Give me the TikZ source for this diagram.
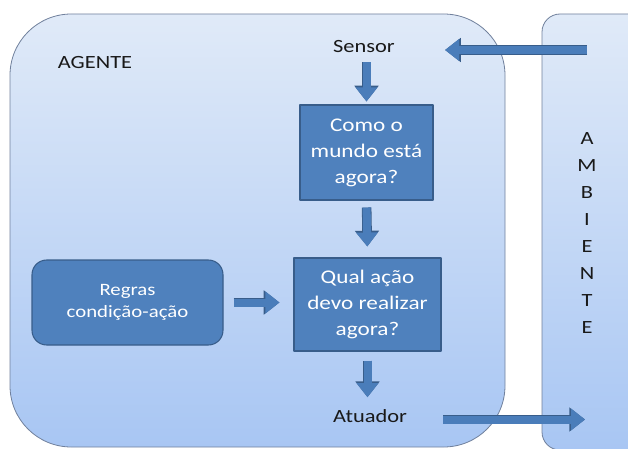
\documentclass[tikz,border=0pt]{standalone}
\usepackage{fontspec}
\setmainfont{Carlito}[FakeStretch=1.2]
\usetikzlibrary{arrows.meta}

\definecolor{framefill}{RGB}{224,234,248}
\definecolor{framebottom}{RGB}{168,198,243}
\definecolor{frameline}{RGB}{112,128,156}
\definecolor{boxblue}{RGB}{79,129,189}
\definecolor{boxline}{RGB}{56,93,138}
\definecolor{arrowblue}{RGB}{74,125,186}
\definecolor{labelblack}{RGB}{25,25,25}

\begin{document}
\begin{tikzpicture}[x=0.75pt,y=-0.75pt,line cap=butt,line join=round,
    moldura/.style={draw=frameline,line width=0.6pt,top color=framefill,bottom color=framebottom},
    rotulo/.style={text=labelblack,inner sep=0pt,font=\fontsize{14}{17}\selectfont},
    caixa/.style={draw=boxline,line width=0.8pt,fill=boxblue,text=white,align=center,
        inner sep=2pt,font=\fontsize{14.5}{19.5}\selectfont},
    seta/.style={arrowblue,line width=6pt,-{Triangle[width=15.75pt,length=10.5pt]},
        preaction={draw=boxline,line width=7.2pt,-{Triangle[width=17.5pt,length=11.8pt]}}}]
        \useasboundingbox (0,0) rectangle (628,449);

        % Molduras do agente e do ambiente
        \draw[moldura,rounded corners=46pt] (10,14) rectangle (505,447);
        \draw[moldura,rounded corners=13.5pt] (542,14) rectangle (660,450);

        % Textos do agente
        \node[rotulo] (agente) at (95,63) {AGENTE};
        \node[rotulo] (sensor) at (364,47) {Sensor};
        \node[rotulo] (atuador) at (370,416) {Atuador};

        % Caixas de decisao
        \node[caixa,minimum width=99.75pt,minimum height=71.25pt] (mundo) at (366.5,152.5)
            {Como o\\mundo está\\agora?};
        \node[caixa,minimum width=110.25pt,minimum height=69.75pt] (acao) at (367.5,304.5)
            {Qual ação\\devo realizar\\agora?};
        \node[caixa,rounded corners=11pt,minimum width=143.25pt,minimum height=63.75pt,
            font=\fontsize{13}{17}\selectfont] (regras) at (127.5,302.5)
            {Regras\\condição-ação};

        % Ambiente escrito na vertical
        \node[rotulo,align=center,font=\fontsize{14}{20.25}\selectfont] (ambiente) at (587,233.5)
            {A\\M\\B\\I\\E\\N\\T\\E};

        % Pontos de entrada e saida no ambiente
        \coordinate (percepcao) at (587,50);
        \coordinate (efeito) at (585,419.5);

        % Setas de fluxo
        \draw[seta,shorten >=37.5pt] (percepcao) -- (percepcao -| sensor.east);
        \draw[seta,shorten <=6.75pt,shorten >=2.25pt] (mundo.north |- sensor.south) -- (mundo.north);
        \draw[seta,shorten <=5.25pt,shorten >=8.25pt] (mundo.south) -- (acao.north);
        \draw[seta,shorten <=7.5pt,shorten >=10.5pt] (regras.east) -- (regras.east -| acao.west);
        \draw[seta,shorten <=6.75pt,shorten >=9pt] (acao.south) -- (acao.south |- atuador.north);
        \draw[seta,shorten <=27pt] (atuador.east |- efeito) -- (efeito);
    \end{tikzpicture}
\end{document}
